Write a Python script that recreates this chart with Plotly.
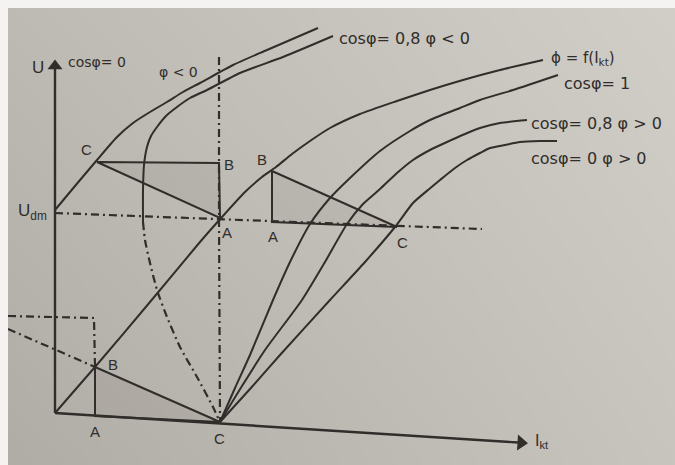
import base64
import struct
import zlib

import numpy as np
import plotly.graph_objects as go

W, H = 675, 465

# ---- diagram geometry (picture units, y grows downward) ----
# U axis and I_kt axis
u_axis_x = [55, 55]
u_axis_y = [413, 66]
i_axis_x = [55, 518]
i_axis_y = [413, 442.5]

# U_dm reference level (dash-dot)
udm_x = [55, 482]
udm_y = [213, 229]

# vertical construction line through the upper-left A/B
vert_x = [219, 219, 220]
vert_y = [57, 218, 421]

# cos(phi) = 0, phi < 0
cos0_lead_x = [55, 75, 97, 117, 133, 150, 167, 183, 200, 233, 267, 318]
cos0_lead_y = [210, 186, 160, 137, 123, 112, 102, 92, 83, 65, 50, 28]

# cos(phi) = 0.8, phi < 0 (solid part)
cos08_lead_x = [143, 143, 144, 147, 151, 157, 166, 177, 190, 207, 240, 283, 333]
cos08_lead_y = [222, 190, 165, 147, 136, 127, 116, 107, 98, 90, 73, 57, 36]
# its dash-dot continuation down to the short-circuit point
cos08_tail_x = [143, 145, 150, 157, 167, 180, 197, 213, 219]
cos08_tail_y = [222, 240, 263, 290, 317, 347, 377, 407, 420]

# magnetisation curve phi = f(I_kt)
phi_x = [55, 95, 150, 200, 222, 245, 262, 276, 292, 310, 330, 360, 397, 430, 463, 500, 543]
phi_y = [413, 367, 302, 242, 217, 192, 177, 167, 154, 141, 128, 114, 101, 90, 80, 70, 60]

# external characteristics starting from the short-circuit point C
cos1_x = [220, 235, 250, 273, 290, 310, 330, 350, 380, 410, 430, 460, 480, 513, 558]
cos1_y = [422, 388, 355, 300, 262, 224, 198, 178, 151, 131, 120, 108, 100, 90, 75]

cos08_lag_x = [220, 242, 265, 302, 325, 347, 363, 380, 397, 413, 430, 447, 465, 480, 500, 527]
cos08_lag_y = [422, 386, 350, 300, 262, 224, 204, 189, 173, 160, 150, 142, 134, 128, 123, 120]

cos0_lag_x = [220, 250, 280, 330, 365, 395, 413, 428, 440, 455, 467, 480, 490, 505, 520, 540, 557]
cos0_lag_y = [422, 389, 355, 300, 262, 227, 203, 190, 180, 168, 160, 153, 148, 145, 142, 141, 141]

# characteristic triangles A-B-C
tri_upper_x = [97, 219, 220, 97]
tri_upper_y = [162, 163, 218, 162]
tri_right_x = [272, 272, 397, 272]
tri_right_y = [171, 222, 227, 171]
tri_lower_x = [95, 95, 220, 95]
tri_lower_y = [367, 416, 422, 367]

# dash-dot constructions at the lower left
aux_h_x = [8, 94, 95]
aux_h_y = [316, 318, 367]
aux_s_x = [8, 95]
aux_s_y = [329, 367]

INK = "#302d2a"
FONT = "DejaVu Sans, Liberation Sans, Arial, sans-serif"
LETTER_FONT = "Liberation Sans, Arial, sans-serif"
DASHDOT = "8px,4px,2px,4px"


def paper_png(w, h):
    """Soft paper-tone gradient encoded as a PNG data URI."""
    yy, xx = np.mgrid[0:h, 0:w]
    u = xx / (w - 1)
    v = yy / (h - 1)
    tl = np.array([190, 186, 180], float)
    tr = np.array([210, 207, 201], float)
    bl = np.array([176, 172, 166], float)
    br = np.array([200, 196, 190], float)
    img = (tl * ((1 - u) * (1 - v))[..., None] + tr * (u * (1 - v))[..., None]
           + bl * ((1 - u) * v)[..., None] + br * (u * v)[..., None])
    img = np.clip(img, 0, 255).astype(np.uint8)
    raw = b"".join(b"\x00" + row.tobytes() for row in img)

    def chunk(tag, data):
        c = struct.pack(">I", len(data)) + tag + data
        return c + struct.pack(">I", zlib.crc32(tag + data) & 0xFFFFFFFF)

    png = (b"\x89PNG\r\n\x1a\n"
           + chunk(b"IHDR", struct.pack(">IIBBBBB", w, h, 8, 2, 0, 0, 0))
           + chunk(b"IDAT", zlib.compress(raw, 9))
           + chunk(b"IEND", b""))
    return "data:image/png;base64," + base64.b64encode(png).decode()


fig = go.Figure()


def line(x, y, dash="solid", width=2.0, smooth=True):
    shape = dict(shape="spline", smoothing=0.6) if smooth else dict(shape="linear")
    fig.add_trace(go.Scatter(x=x, y=y, mode="lines", hoverinfo="skip",
                             line=dict(color=INK, width=width, dash=dash, **shape)))


def tri(x, y):
    fig.add_trace(go.Scatter(x=x, y=y, mode="lines", fill="toself",
                             fillcolor="rgba(70,64,58,0.07)", hoverinfo="skip",
                             line=dict(color=INK, width=2.0)))


for tx, ty in [(tri_upper_x, tri_upper_y), (tri_right_x, tri_right_y),
               (tri_lower_x, tri_lower_y)]:
    tri(tx, ty)

line(udm_x, udm_y, DASHDOT, 2.2, smooth=False)
line(vert_x, vert_y, DASHDOT, 2.2, smooth=False)
line(cos08_tail_x, cos08_tail_y, DASHDOT, 2.2)
line(aux_h_x, aux_h_y, DASHDOT, 2.2, smooth=False)
line(aux_s_x, aux_s_y, DASHDOT, 2.2, smooth=False)

for cx, cy in [(cos0_lead_x, cos0_lead_y), (cos08_lead_x, cos08_lead_y),
               (phi_x, phi_y), (cos1_x, cos1_y), (cos08_lag_x, cos08_lag_y),
               (cos0_lag_x, cos0_lag_y)]:
    line(cx, cy)

line(u_axis_x, u_axis_y, width=2.4, smooth=False)
line(i_axis_x, i_axis_y, width=2.4, smooth=False)

# arrowheads of the two axes
fig.add_trace(go.Scatter(x=[u_axis_x[1]], y=[u_axis_y[1]], mode="markers", hoverinfo="skip",
                         marker=dict(symbol="triangle-up", size=13, color=INK)))
fig.add_trace(go.Scatter(x=[i_axis_x[1] + 3], y=[i_axis_y[1] + 0.2], mode="markers",
                         hoverinfo="skip",
                         marker=dict(symbol="triangle-right", size=14, color=INK, angle=3.6)))

labels = [
    # text, x, y, size, anchor, family
    ("U", 38, 67, 17, "center", LETTER_FONT),
    ("cosφ= 0", 66, 62, 14, "left", FONT),
    ("φ < 0", 178, 72, 14, "center", FONT),
    ("C", 86, 149, 15, "center", LETTER_FONT),
    ("B", 229, 164, 15, "center", LETTER_FONT),
    ("A", 227, 232, 15, "center", LETTER_FONT),
    ("B", 262, 159, 15, "center", LETTER_FONT),
    ("A", 273, 236, 15, "center", LETTER_FONT),
    ("C", 402, 242, 15, "center", LETTER_FONT),
    ("B", 113, 364, 15, "center", LETTER_FONT),
    ("A", 95, 431, 15, "center", LETTER_FONT),
    ("C", 219, 438, 15, "center", LETTER_FONT),
    ("U<sub>dm</sub>", 32, 212, 17, "center", LETTER_FONT),
    ("cosφ= 0,8 φ < 0", 337, 38, 16, "left", FONT),
    ("ϕ = f(I<sub>kt</sub>)", 549, 58, 15, "left", FONT),
    ("cosφ= 1", 562, 83, 16, "left", FONT),
    ("cosφ= 0,8 φ > 0", 529, 123, 16, "left", FONT),
    ("cosφ= 0 φ > 0", 529, 158, 16, "left", FONT),
    ("I<sub>kt</sub>", 533, 441, 16, "left", LETTER_FONT),
]
for text, x, y, size, anchor, family in labels:
    fig.add_annotation(x=x, y=y, text=text, showarrow=False, xanchor=anchor,
                       yanchor="middle", font=dict(family=family, size=size, color=INK))

# white photo margin on the left and top
fig.add_shape(type="rect", xref="paper", yref="paper", x0=0, x1=8 / W, y0=0, y1=1,
              fillcolor="#f4f3f1", line_width=0, layer="above")
fig.add_shape(type="rect", xref="paper", yref="paper", x0=0, x1=1, y0=1 - 8 / H, y1=1,
              fillcolor="#f4f3f1", line_width=0, layer="above")

fig.update_layout(
    width=W, height=H,
    margin=dict(l=0, r=0, t=0, b=0),
    showlegend=False,
    paper_bgcolor="#c6c2bc",
    plot_bgcolor="#c6c2bc",
    images=[dict(source=paper_png(135, 93), xref="paper", yref="paper", x=0, y=1,
                 sizex=1, sizey=1, sizing="stretch", xanchor="left", yanchor="top",
                 layer="below")],
    xaxis=dict(range=[0, W], visible=False, fixedrange=True),
    yaxis=dict(range=[H, 0], visible=False, fixedrange=True),
)

fig.write_html("out.html")
